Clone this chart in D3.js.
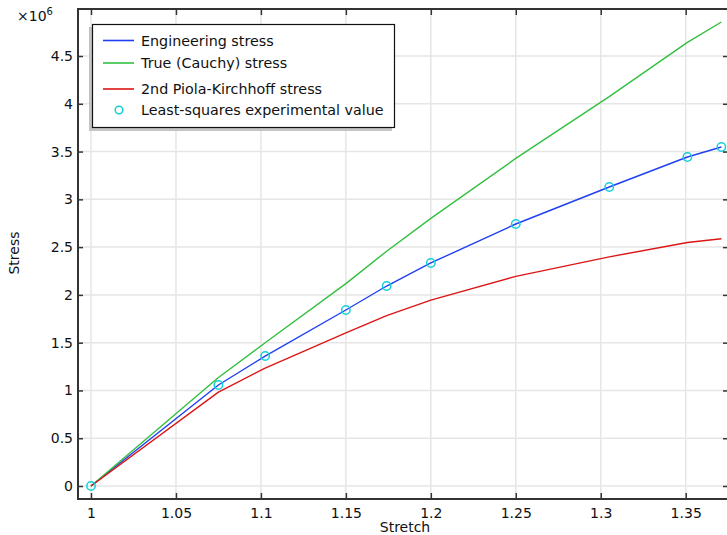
<!DOCTYPE html>
<html><head><meta charset="utf-8">
<script src="https://cdn.jsdelivr.net/npm/d3@7"></script>
<style>body{margin:0;background:#fff;} svg{display:block;font-family:"DejaVu Sans",sans-serif;}</style>
</head><body>
<svg id="c" width="727" height="535"></svg>
<script>
// Data (stress in Pa)
const stretch      = [1, 1.075, 1.1025, 1.15, 1.174, 1.2, 1.25, 1.305, 1.351, 1.371];
const engineering  = [0, 1.057e6, 1.360e6, 1.842e6, 2.093e6, 2.334e6, 2.742e6, 3.129e6, 3.443e6, 3.548e6];
const trueStress   = [0, 1.136e6, 1.499e6, 2.118e6, 2.457e6, 2.801e6, 3.428e6, 4.075e6, 4.643e6, 4.856e6];
const piola2       = [0, 0.983e6, 1.234e6, 1.602e6, 1.783e6, 1.945e6, 2.194e6, 2.398e6, 2.548e6, 2.588e6];
const expStretch   = [1, 1.075, 1.1025, 1.15, 1.174, 1.2, 1.25, 1.305, 1.351, 1.371];
const expStress    = [0, 1.057e6, 1.360e6, 1.842e6, 2.093e6, 2.334e6, 2.742e6, 3.129e6, 3.443e6, 3.548e6];
const xTicks = [1, 1.05, 1.1, 1.15, 1.2, 1.25, 1.3, 1.35];
const xTickLabels = ["1", "1.05", "1.1", "1.15", "1.2", "1.25", "1.3", "1.35"];
const yTicks = [0, 0.5e6, 1e6, 1.5e6, 2e6, 2.5e6, 3e6, 3.5e6, 4e6, 4.5e6];
const yTickLabels = ["0", "0.5", "1", "1.5", "2", "2.5", "3", "3.5", "4", "4.5"];
const seriesNames = ["Engineering stress", "True (Cauchy) stress", "2nd Piola-Kirchhoff stress", "Least-squares experimental value"];
const colors = ["#1f3ff2", "#33bf3f", "#dd1515", "#14cfd6"];

const svg = d3.select("#c");
const L = 78, R = 728, T = 9, B = 499;
const x = d3.scaleLinear().domain([0.99235, 1.3749]).range([L, R]);
const y = d3.scaleLinear().domain([-0.136e6, 4.992e6]).range([B, T]);

// grid
const g = svg.append("g");
g.selectAll("line.gx").data(xTicks).enter().append("line")
  .attr("x1", d => x(d)).attr("x2", d => x(d)).attr("y1", T).attr("y2", B)
  .attr("stroke", "#e6e6e6").attr("stroke-width", 1.5);
g.selectAll("line.gy").data(yTicks).enter().append("line")
  .attr("x1", L).attr("x2", R).attr("y1", d => y(d)).attr("y2", d => y(d))
  .attr("stroke", "#e6e6e6").attr("stroke-width", 1.5);

// lines
const line = d3.line().x(d => x(d[0])).y(d => y(d[1]));
[engineering, trueStress, piola2].forEach((s, i) => {
  svg.append("path").datum(stretch.map((v, k) => [v, s[k]]))
    .attr("d", line).attr("fill", "none").attr("stroke", colors[i]).attr("stroke-width", 1.4)
    .attr("stroke-linejoin", "round");
});
svg.selectAll("circle.exp").data(expStretch.map((v, k) => [v, expStress[k]])).enter().append("circle")
  .attr("cx", d => x(d[0])).attr("cy", d => y(d[1])).attr("r", 4.2)
  .attr("fill", "none").attr("stroke", colors[3]).attr("stroke-width", 1.5);

// axes
const ax = d3.axisBottom(x).tickValues(xTicks).tickFormat((d, i) => xTickLabels[i]).tickSize(-6).tickPadding(9);
const axT = d3.axisTop(x).tickValues(xTicks).tickFormat("").tickSize(-6);
const ay = d3.axisLeft(y).tickValues(yTicks).tickFormat((d, i) => yTickLabels[i]).tickSize(-5).tickPadding(5);
const ayR = d3.axisRight(y).tickValues(yTicks).tickFormat("").tickSize(-5);
function style(sel) {
  sel.selectAll("path.domain").attr("stroke", "#333").attr("stroke-width", 2);
  sel.selectAll(".tick line").attr("stroke", "#333").attr("stroke-width", 1.5);
  sel.selectAll(".tick text").attr("fill", "#111").style("font-size", "14px").style("font-family", "DejaVu Sans");
}
svg.append("g").attr("transform", `translate(0,${B})`).call(ax).call(style);
svg.append("g").attr("transform", `translate(0,${T})`).call(axT).call(style);
svg.append("g").attr("transform", `translate(${L},0)`).call(ay).call(style);
svg.append("g").attr("transform", `translate(${R},0)`).call(ayR).call(style);
svg.selectAll("path.domain").attr("d", null);
svg.append("rect").attr("x", L).attr("y", T).attr("width", R - L).attr("height", B - T)
  .attr("fill", "none").attr("stroke", "#333").attr("stroke-width", 2);

// labels
svg.append("text").attr("x", 405).attr("y", 532).attr("text-anchor", "middle")
  .style("font-size", "14px").attr("fill", "#111").text("Stretch");
svg.append("text").attr("transform", "translate(19,253) rotate(-90)").attr("text-anchor", "middle")
  .style("font-size", "14px").attr("fill", "#111").text("Stress");
const mult = svg.append("text").attr("x", 17).attr("y", 21).style("font-size", "14px").attr("fill", "#111");
mult.append("tspan").text("×10");
mult.append("tspan").attr("dy", -6).style("font-size", "10px").text("6");

// legend
const lg = svg.append("g");
lg.append("rect").attr("x", 89).attr("y", 27).attr("width", 303).attr("height", 104).attr("fill", "#c4c4c4");
lg.append("rect").attr("x", 92.5).attr("y", 24.5).attr("width", 302).attr("height", 103)
  .attr("fill", "#fff").attr("stroke", "#111").attr("stroke-width", 1.2);
const rowY = [40.5, 63, 89, 110];
seriesNames.forEach((n, i) => {
  if (i < 3) {
    lg.append("line").attr("x1", 103).attr("x2", 134).attr("y1", rowY[i]).attr("y2", rowY[i])
      .attr("stroke", colors[i]).attr("stroke-width", 1.6);
  } else {
    lg.append("circle").attr("cx", 119).attr("cy", rowY[i]).attr("r", 3.8)
      .attr("fill", "none").attr("stroke", colors[i]).attr("stroke-width", 1.5);
  }
  lg.append("text").attr("x", 141).attr("y", rowY[i] + 5).style("font-size", "14.3px").attr("fill", "#111").text(n);
});
</script>
</body></html>
